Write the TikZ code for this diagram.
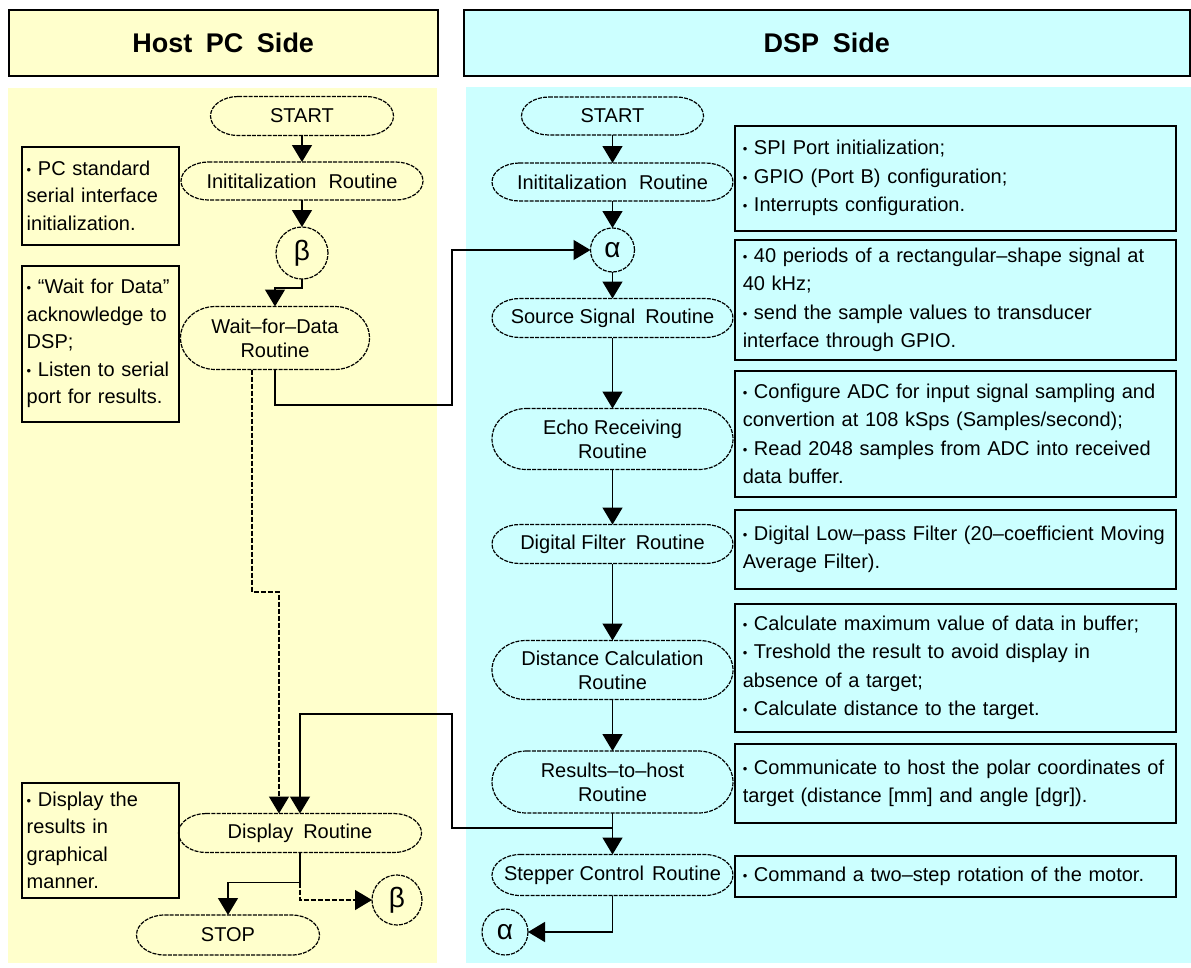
\documentclass[tikz,border=0pt]{standalone}
\usepackage{fontspec}
\setmainfont{Liberation Sans}
\usetikzlibrary{arrows.meta}
\definecolor{hostbg}{HTML}{FFFFCC}
\definecolor{dspbg}{HTML}{CCFFFF}
\newcommand\bl{\mbox{\fontsize{13}{13}\selectfont\raisebox{1pt}{•}}\ }
\tikzset{
 conn/.style={line width=1.5pt, -{Triangle[length=17pt,width=20pt]}},
 dashconn/.style={conn, line width=1.2pt, dash pattern=on 5pt off 2pt},
 flowtxt/.style={rectangle, inner sep=0pt, outer sep=0pt, align=center, font=\fontsize{20}{24}\selectfont},
 flowline/.style={line width=1.2pt, dash pattern=on 4pt off 1.2pt},
 conncircle/.style={circle, draw, flowline, inner sep=0pt, outer sep=0pt, font=\fontsize{28}{28}\selectfont},
 notebox/.style={rectangle, draw, line width=1.5pt, anchor=north west, inner xsep=5pt, inner ysep=0pt, align=left, font=\fontsize{20}{27.5}\selectfont},
 headerbox/.style={rectangle, draw, line width=1.5pt, anchor=north west, inner sep=0pt, font={\fontsize{27}{30}\selectfont\bfseries\spaceskip=0.5em\relax}},
}
\newcommand\flowshape[6]{%
 \node[flowtxt, minimum width=#4pt, minimum height=#5pt] (#1) at (#2,#3) {#6};
 \pgfmathsetmacro\capw{16+0.3*#5}%
 \pgfmathsetmacro\caph{#5/2}%
 \draw[flowline] ([xshift=\capw pt]#1.north west) -- ([xshift=-\capw pt]#1.north east)
   arc[start angle=90, end angle=-90, x radius=\capw pt, y radius=\caph pt]
   -- ([xshift=\capw pt]#1.south west)
   arc[start angle=270, end angle=90, x radius=\capw pt, y radius=\caph pt] -- cycle;
}
\begin{document}
\begin{tikzpicture}[x=1pt,y=-1pt]
\useasboundingbox (0,0) rectangle (1191,967);
% backgrounds
\fill[hostbg] (8,88) rectangle (437,963);
\fill[dspbg] (466,87) rectangle (1191,963);
% headers
\node[headerbox, fill=hostbg, minimum width=429pt, minimum height=66pt] (hhost) at (8,9) {Host PC Side};
\node[headerbox, fill=dspbg, minimum width=726pt, minimum height=66pt] (hdsp) at (463,9) {DSP Side};

% host flow
\flowshape{sL}{302}{116}{183}{39}{START}
\flowshape{iL}{302}{181}{242}{38}{Inititalization\hspace{0.6em}Routine}
\node[conncircle, minimum size=52pt] (bL) at (302,253) {β};
\flowshape{wL}{275}{338}{189}{63}{Wait–for–Data\\Routine}
\flowshape{dL}{300}{833}{243}{39}{Display\hspace{0.5em}Routine}
\flowshape{stop}{228}{935}{183}{40}{STOP}
\node[conncircle, minimum size=50pt] (b2) at (397,900) {β};

% dsp flow
\flowshape{sR}{612.5}{116}{182}{38}{START}
\flowshape{iR}{612.5}{182}{241}{38}{Inititalization\hspace{0.6em}Routine}
\node[conncircle, minimum size=44pt] (aR) at (612.5,250) {α};
\flowshape{ss}{612.5}{318}{241}{39}{Source Signal\hspace{0.5em}Routine}
\flowshape{er}{612.5}{439}{241}{61}{Echo Receiving\\Routine}
\flowshape{df}{612.5}{544}{241}{39}{Digital Filter\hspace{0.5em}Routine}
\flowshape{dc}{612.5}{670}{241}{59}{Distance Calculation\\Routine}
\flowshape{rh}{612.5}{782}{241}{62}{Results–to–host\\Routine}
\flowshape{sc}{612.5}{875}{241}{41}{Stepper Control\hspace{0.4em}Routine}
\node[conncircle, minimum size=46pt] (a2) at (505,932) {α};

% host notes
\node[notebox, minimum width=157pt, minimum height=98pt, text width=147pt] (nb1) at (21,146)
 {\bl PC standard\\serial interface\\initialization.};
\node[notebox, minimum width=157pt, minimum height=156pt, text width=147pt] (nb2) at (21,265)
 {\bl “Wait for Data”\\acknowledge to\\DSP;\\\bl Listen to serial\\port for results.};
\node[notebox, minimum width=157pt, minimum height=115pt, text width=147pt] (nb3) at (21,782)
 {\bl Display the\\results in\\graphical\\manner.};

% dsp notes
\tikzset{dspnote/.style={notebox, inner xsep=8pt, text width=425pt, font=\fontsize{20}{28.5}\selectfont}}
\node[dspnote, minimum height=105pt] (nA) at (734,125)
 {\bl SPI Port initialization;\\\bl GPIO (Port B) configuration;\\\bl Interrupts configuration.};
\node[dspnote, minimum height=120pt] (nB) at (734,239)
 {\bl 40 periods of a rectangular–shape signal at\\40 kHz;\\\bl send the sample values to transducer\\interface through GPIO.};
\node[dspnote, minimum height=126pt] (nC) at (734,370)
 {\bl Configure ADC for input signal sampling and\\convertion at 108 kSps (Samples/second);\\\bl Read 2048 samples from ADC into received\\data buffer.};
\node[dspnote, minimum height=79pt] (nD) at (734,509)
 {\bl Digital Low–pass Filter (20–coefficient Moving\\Average Filter).};
\node[dspnote, minimum height=128pt] (nE) at (734,603)
 {\bl Calculate maximum value of data in buffer;\\\bl Treshold the result to avoid display in\\absence of a target;\\\bl Calculate distance to the target.};
\node[dspnote, minimum height=79pt] (nF) at (734,743)
 {\bl Communicate to host the polar coordinates of\\target (distance [mm] and angle [dgr]).\\[8pt]};
\node[dspnote, minimum height=41pt] (nG) at (734,855)
 {\bl Command a two–step rotation of the motor.};

% host connectors
\draw[conn] (sL.south) -- (iL.north);
\draw[conn] (iL.south) -- (bL.north);
\draw[conn] (bL.south) -- ++(0,9) -| (wL.north);
\coordinate (cA) at (452,405);
\draw[conn] (wL.south) |- (cA) |- (aR.west);
\coordinate (cB) at (279,592);
\draw[dashconn] ([xshift=-23pt]wL.south) |- (cB) -- ([xshift=-21pt]dL.north);
\coordinate (cC) at (452,714);
\coordinate (cD) at ([yshift=-15pt]rh.south);
\draw[conn] (cD) -| (cC) -| (dL.north);
\coordinate (cE) at ([yshift=-30pt]dL.south);
\draw[conn] (dL.south) -- (cE) -| (stop.north);
\draw[dashconn] (cE) |- (b2.west);

% dsp connectors
\draw[conn] (sR.south) -- (iR.north);
\draw[conn] (iR.south) -- (aR.north);
\draw[conn] (aR.south) -- (ss.north);
\draw[conn] (ss.south) -- (er.north);
\draw[conn] (er.south) -- (df.north);
\draw[conn] (df.south) -- (dc.north);
\draw[conn] (dc.south) -- (rh.north);
\draw[conn] (rh.south) -- (sc.north);
\draw[conn] (sc.south) |- (a2.east);
\end{tikzpicture}
\end{document}
